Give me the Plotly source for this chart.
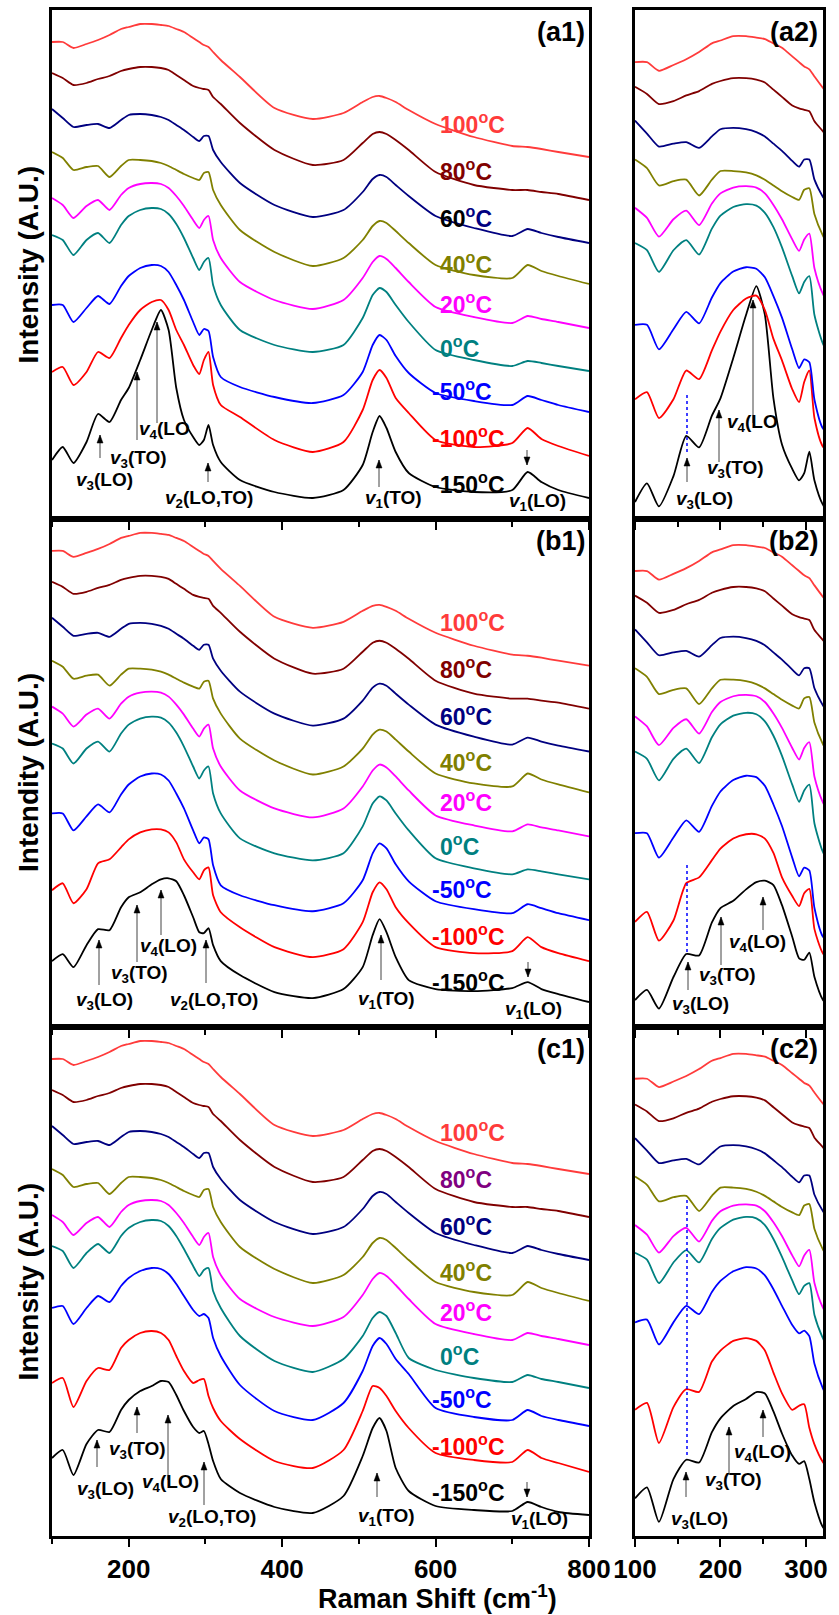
import plotly.graph_objects as go

W, H = 839, 1615

# ---------------- data (intensity in arbitrary units, incl. stacking offset) ----------------
raman_x = [100, 114, 128, 145, 160, 175, 190, 200, 215, 230, 242, 252, 262, 272, 284, 292, 298, 304, 310,
           320, 345, 390, 440, 480, 505, 518, 527, 536, 548, 565, 600, 650, 700, 720, 738, 760, 800]
temperatures = ["-150", "-100", "-50", "0", "20", "40", "60", "80", "100"]
colors = ["#000000", "#FF0000", "#0000FF", "#008080", "#FF00FF", "#808000", "#000080", "#800000", "#FF3B3B"]

# panel (a)
a_m150 = [59, 72, 56, 77, 105, 97, 119, 131, 159, 189, 209, 189, 131, 99, 82, 74, 79, 94, 74, 57, 39, 27, 21, 29, 54, 87, 103, 91, 67, 46, 32, 27, 29, 47, 37, 29, 21]
a_m100 = [147, 152, 134, 147, 167, 161, 181, 194, 209, 217, 219, 209, 189, 174, 154, 145, 159, 167, 134, 114, 102, 79, 67, 77, 109, 139, 149, 141, 121, 106, 79, 72, 76, 91, 80, 73, 63]
a_m50 = [214, 214, 197, 211, 223, 215, 233, 243, 251, 254, 253, 247, 234, 219, 197, 184, 190, 188, 162, 142, 132, 122, 116, 124, 147, 174, 184, 179, 163, 146, 126, 118, 114, 123, 119, 114, 107]
a_0 = [284, 279, 264, 279, 286, 276, 294, 303, 309, 311, 310, 305, 295, 281, 261, 249, 257, 261, 234, 214, 189, 174, 167, 174, 201, 224, 231, 227, 214, 197, 169, 159, 153, 158, 156, 153, 148]
a_20 = [321, 314, 301, 313, 319, 309, 324, 331, 335, 336, 335, 331, 323, 313, 299, 291, 299, 303, 279, 261, 237, 219, 210, 219, 241, 257, 263, 260, 251, 237, 212, 202, 196, 203, 200, 197, 191]
a_40 = [367, 361, 349, 352, 353, 342, 353, 359, 359, 358, 356, 353, 349, 345, 341, 339, 346, 347, 329, 314, 289, 267, 253, 261, 279, 293, 298, 296, 288, 276, 254, 244, 241, 254, 248, 243, 235]
a_60 = [410, 401, 392, 394, 395, 391, 399, 404, 405, 404, 402, 399, 394, 389, 382, 378, 383, 383, 369, 357, 336, 314, 302, 309, 327, 340, 344, 342, 334, 323, 303, 291, 283, 290, 286, 282, 276]
a_80 = [446, 441, 434, 436, 440, 443, 448, 450, 452, 452, 451, 449, 444, 439, 433, 431, 430, 429, 422, 415, 396, 369, 354, 359, 376, 385, 387, 385, 379, 369, 347, 334, 329, 329, 327, 325, 319]
a_100 = [477, 477, 471, 475, 479, 484, 490, 492, 495, 495, 494, 493, 490, 487, 481, 477, 474, 472, 467, 459, 442, 411, 400, 406, 417, 422, 423, 421, 417, 409, 395, 382, 373, 372, 370, 367, 362]

# panel (b)
b_m150 = [66, 73, 60, 82, 98, 97, 120, 130, 135, 143, 148, 149, 146, 132, 110, 95, 94, 99, 82, 66, 52, 35, 29, 38, 60, 92, 108, 95, 70, 47, 38, 36, 39, 45, 38, 33, 25]
b_m100 = [137, 144, 124, 138, 164, 168, 180, 188, 195, 198, 198, 195, 185, 168, 155, 148, 157, 160, 132, 115, 100, 80, 70, 78, 105, 135, 145, 138, 120, 104, 80, 74, 76, 90, 80, 74, 66]

# panel (c)
c_m150 = [78, 86, 61, 92, 106, 104, 126, 136, 145, 150, 155, 154, 141, 125, 109, 103, 105, 92, 75, 57, 43, 29, 23, 40, 80, 108, 118, 105, 68, 45, 30, 26, 25, 34, 29, 24, 21]
c_m100 = [153, 158, 129, 155, 168, 166, 188, 196, 203, 205, 203, 196, 180, 165, 153, 156, 157, 140, 128, 115, 97, 75, 68, 86, 125, 150, 148, 140, 125, 108, 83, 76, 74, 86, 78, 73, 64]
c_m50 = [228, 230, 212, 228, 240, 234, 250, 258, 265, 268, 267, 262, 252, 240, 226, 220, 222, 218, 198, 180, 151, 125, 116, 133, 165, 190, 198, 192, 177, 162, 128, 119, 116, 126, 120, 116, 110]
c_0 = [290, 285, 268, 283, 292, 283, 300, 308, 314, 316, 315, 310, 300, 287, 270, 260, 266, 268, 245, 228, 200, 175, 164, 177, 200, 218, 224, 220, 203, 178, 166, 158, 154, 161, 157, 154, 148]

panel_series = {
    "a": [a_m150, a_m100, a_m50, a_0, a_20, a_40, a_60, a_80, a_100],
    "b": [b_m150, b_m100, a_m50, a_0, a_20, a_40, a_60, a_80, a_100],
    "c": [c_m150, c_m100, c_m50, c_0, a_20, a_40, a_60, a_80, a_100],
}
# zoomed (right) panels: same spectra, low-frequency part, stretched vertically
right_scale = {"a": 1.44, "b": 1.44, "c": 1.38}
right_shift = {
    "a": [-68, -92, -114, -133, -151, -169, -192, -210, -230],
    "b": [-68, -92, -114, -133, -151, -169, -192, -210, -230],
    "c": [-70, -85, -101, -117, -132, -147, -168, -184, -201],
}

left_ticks = [200, 400, 600, 800]
left_minor = [100, 300, 500, 700]
right_ticks = [100, 200, 300]
right_minor = [150, 250]

# ---------------- layout geometry (pixels) ----------------
LX0, LX1 = 52, 589
RX0, RX1 = 635, 823
tops = [10, 519, 1027]
bots = [519, 1027, 1536]
PH = 509
FONT = "Arial, Liberation Sans, sans-serif"


def pp(x, y):
    return x / W, 1 - y / H


fig = go.Figure()

for k, p in enumerate(["a", "b", "c"]):
    xl, yl = f"x{2*k+1}", f"y{2*k+1}"
    xr, yr = f"x{2*k+2}", f"y{2*k+2}"
    for i, s in enumerate(panel_series[p]):
        fig.add_trace(go.Scatter(x=raman_x, y=s, mode="lines", xaxis=xl, yaxis=yl,
                                 line=dict(color=colors[i], width=1.8, shape="spline", smoothing=0.6),
                                 showlegend=False, hoverinfo="skip"))
        xs = [v for v in raman_x if v <= 345]
        ys = [right_scale[p] * s[j] + right_shift[p][i] for j, v in enumerate(raman_x) if v <= 345]
        fig.add_trace(go.Scatter(x=xs, y=ys, mode="lines", xaxis=xr, yaxis=yr,
                                 line=dict(color=colors[i], width=1.8, shape="spline", smoothing=0.6),
                                 showlegend=False, hoverinfo="skip"))

axis_common = dict(showline=True, linewidth=3, linecolor="black", mirror=True,
                   showgrid=False, zeroline=False, automargin=False)
tickfont = dict(family=FONT, size=26, color="black", weight="bold")
lay = {}
for k in range(3):
    yd = [1 - bots[k] / H, 1 - tops[k] / H]
    last = (k == 2)
    lay[f"xaxis{2*k+1}"] = dict(axis_common, domain=[LX0 / W, LX1 / W], range=[100, 800],
                                 anchor=f"y{2*k+1}", tickvals=left_ticks, ticks="outside",
                                 ticklen=8, tickwidth=2, tickcolor="black",
                                 minor=dict(tickvals=left_minor, ticks="outside", ticklen=5,
                                            tickwidth=2, tickcolor="black"),
                                 showticklabels=last, tickfont=tickfont)
    lay[f"yaxis{2*k+1}"] = dict(axis_common, domain=yd, range=[0, PH], anchor=f"x{2*k+1}",
                                 showticklabels=False, ticks="")
    lay[f"xaxis{2*k+2}"] = dict(axis_common, domain=[RX0 / W, RX1 / W], range=[100, 320],
                                 anchor=f"y{2*k+2}", tickvals=right_ticks, ticks="outside",
                                 ticklen=8, tickwidth=2, tickcolor="black",
                                 minor=dict(tickvals=right_minor, ticks="outside", ticklen=5,
                                            tickwidth=2, tickcolor="black"),
                                 showticklabels=last, tickfont=tickfont)
    lay[f"yaxis{2*k+2}"] = dict(axis_common, domain=yd, range=[0, PH], anchor=f"x{2*k+2}",
                                 showticklabels=False, ticks="")

ann = []
shapes = []


def text(x, y, t, size=19, color="black", xanchor="center", angle=0):
    px, py = pp(x, y)
    ann.append(dict(x=px, y=py, xref="paper", yref="paper", text=t, showarrow=False,
                    xanchor=xanchor, yanchor="middle", textangle=angle,
                    font=dict(family=FONT, size=size, color=color, weight="bold")))


def arrow(x, ytip, ytail):
    x0, y0 = pp(x, ytail)
    x1, y1 = pp(x, ytip)
    shapes.append(dict(type="line", xref="paper", yref="paper", x0=x0, y0=y0, x1=x1, y1=y1,
                       line=dict(color="#444", width=1)))
    d = 8 if ytail > ytip else -8
    ax, ay = pp(x - 3, ytip + d)
    bx, by = pp(x + 3, ytip + d)
    shapes.append(dict(type="path", xref="paper", yref="paper",
                       path=f"M {ax} {ay} L {x1} {y1} L {bx} {by} Z",
                       fillcolor="black", line=dict(color="black", width=0.5)))


def nu(n, rest):
    return f"<i>v</i><sub>{n}</sub>{rest}"


# panel labels
for k, p in enumerate(["a", "b", "c"]):
    text(561, tops[k] + 22, f"({p}1)", size=27)
    text(794, tops[k] + 22, f"({p}2)", size=27)

# temperature labels
label_y = [483, 437, 390, 347, 303, 263, 217, 170, 123]
label_off = [0, 498, 1008]
for k in range(3):
    for i, t in enumerate(temperatures):
        y = label_y[i] + label_off[k]
        x = 430 if t.startswith("-") else 438
        c = colors[i]
        if k == 2 and t == "80":
            c = "#800080"
        if k == 0 and t == "60":
            lab = "<span style='color:black'>60</span><sup>o</sup>C"
        else:
            lab = f"{t}<sup>o</sup>C"
        text(x, y, lab, size=23, color=c, xanchor="left")

# ---- peak assignments, panel a ----
arrow(100, 435, 458); arrow(137, 372, 440); arrow(157, 322, 423); arrow(208, 463, 482)
arrow(379, 460, 487); arrow(527, 465, 450)
text(104, 481, nu(3, "(LO)")); text(138, 459, nu(3, "(TO)")); text(164, 430, nu(4, "(LO"))
text(209, 499, nu(2, "(LO,TO)")); text(393, 499, nu(1, "(TO)")); text(537, 502, nu(1, "(LO)"))
arrow(687, 458, 482); arrow(719, 410, 462); arrow(753, 300, 423)
text(704, 500, nu(3, "(LO)")); text(735, 469, nu(3, "(TO)")); text(752, 423, nu(4, "(LO"))
# ---- panel b ----
arrow(99, 940, 985); arrow(137, 905, 962); arrow(161, 890, 935); arrow(206, 940, 983)
arrow(381, 935, 980); arrow(528, 977, 962)
text(104, 1001, nu(3, "(LO)")); text(139, 974, nu(3, "(TO)")); text(168, 947, nu(4, "(LO)"))
text(214, 1001, nu(2, "(LO,TO)")); text(386, 1000, nu(1, "(TO)")); text(533, 1010, nu(1, "(LO)"))
arrow(688, 962, 990); arrow(721, 917, 965); arrow(763, 897, 930)
text(700, 1005, nu(3, "(LO)")); text(727, 976, nu(3, "(TO)")); text(757, 943, nu(4, "(LO)"))
# ---- panel c ----
arrow(97, 1440, 1467); arrow(137, 1407, 1433); arrow(168, 1415, 1480); arrow(204, 1462, 1505)
arrow(377, 1473, 1497); arrow(527, 1497, 1482)
text(105, 1490, nu(3, "(LO)")); text(137, 1450, nu(3, "(TO)")); text(170, 1483, nu(4, "(LO)"))
text(212, 1518, nu(2, "(LO,TO)")); text(386, 1517, nu(1, "(TO)")); text(539, 1520, nu(1, "(LO)"))
arrow(686, 1472, 1497); arrow(729, 1427, 1475); arrow(763, 1410, 1437)
text(699, 1520, nu(3, "(LO)")); text(733, 1481, nu(3, "(TO)")); text(762, 1453, nu(4, "(LO)"))

# dotted guide lines in the zoomed panels
for (ya, yb) in [(395, 452), (865, 952), (1200, 1457)]:
    x0, y0 = pp(687, ya)
    x1, y1 = pp(687, yb)
    shapes.append(dict(type="line", xref="paper", yref="paper", x0=x0, x1=x1, y0=y0, y1=y1,
                       line=dict(color="#0000FF", width=1.5, dash="dot")))

# y titles
ytitles = ["Intensity (A.U.)", "Intendity (A.U.)", "Intensity (A.U.)"]
for k in range(3):
    text(28, (tops[k] + bots[k]) / 2, ytitles[k], size=28, angle=-90)

# x title
text(437, 1597, "Raman Shift (cm<sup>-1</sup>)", size=27)

fig.update_layout(width=W, height=H, margin=dict(l=0, r=0, t=0, b=0, autoexpand=False),
                  paper_bgcolor="white", plot_bgcolor="white", showlegend=False,
                  annotations=ann, shapes=shapes, **lay)
fig.write_html("out.html", config={"responsive": False, "displayModeBar": False},
               post_script="document.body.style.margin='0';document.body.style.overflow='hidden';")
